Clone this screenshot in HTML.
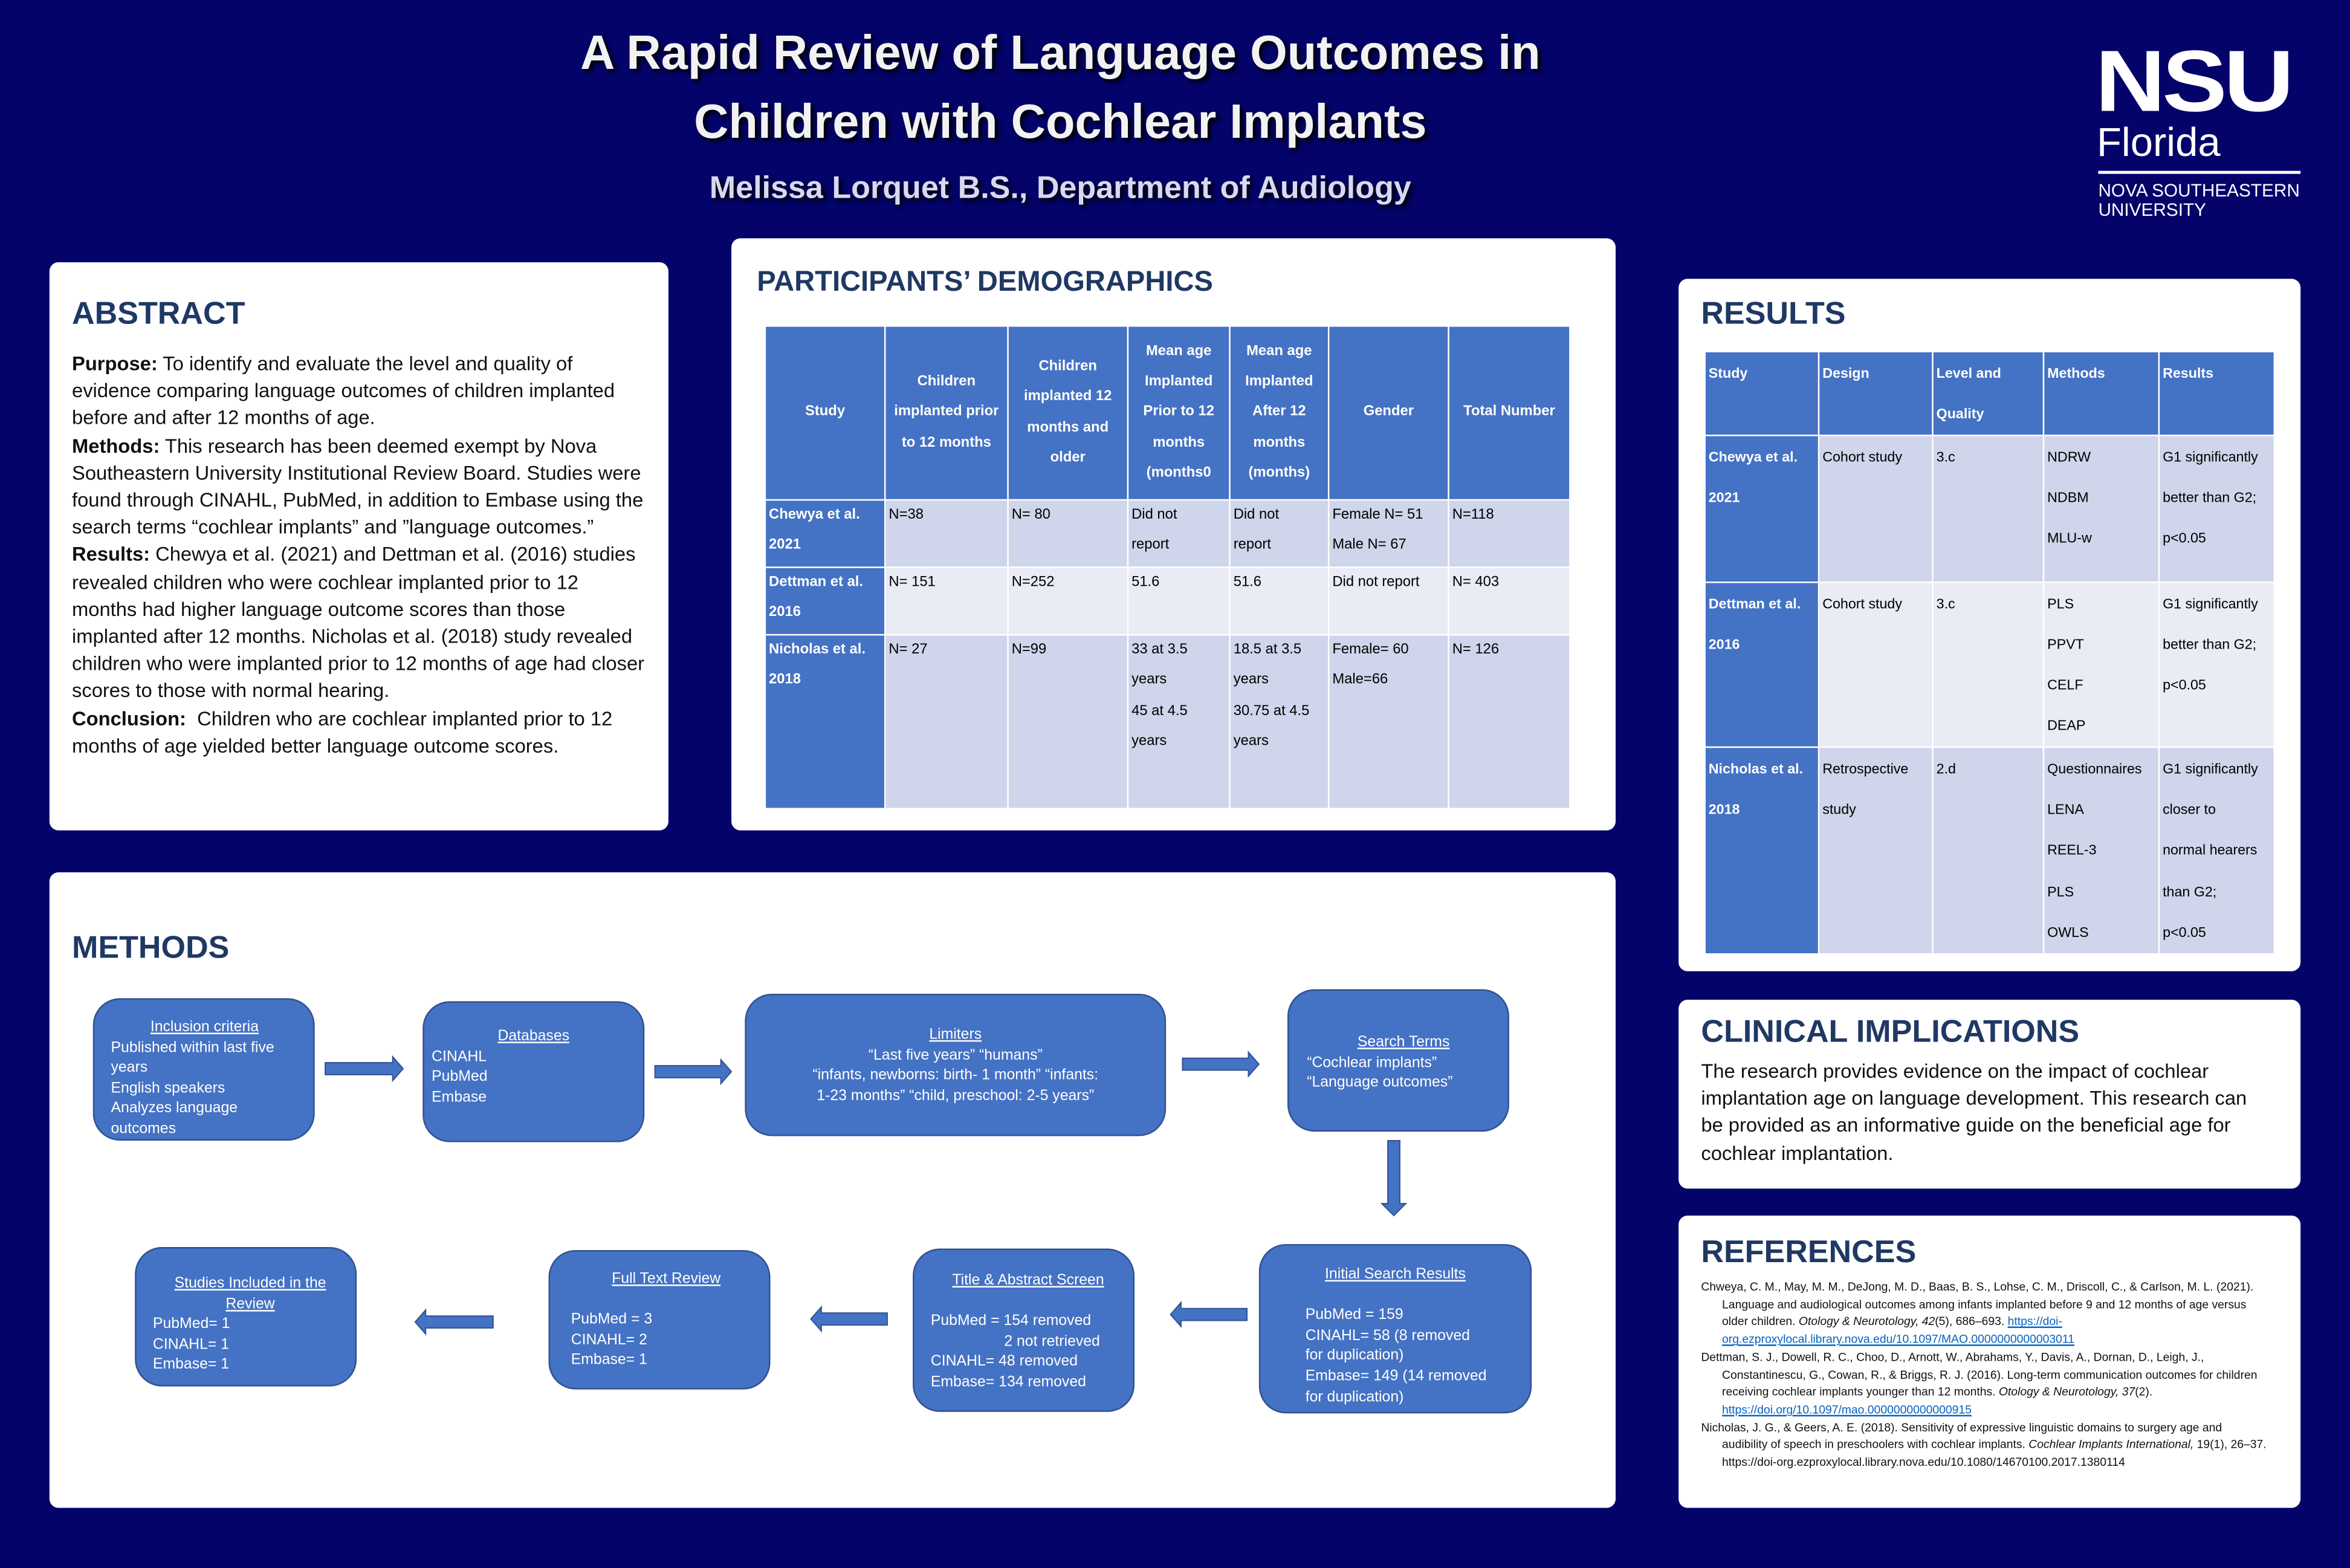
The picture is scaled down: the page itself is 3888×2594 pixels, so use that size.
<!DOCTYPE html>
<html><head><meta charset="utf-8"><style>
html,body{margin:0;padding:0;background:#03036a;}
body{width:3888px;height:2592px;overflow:hidden;}
#w{position:absolute;left:0;top:0;width:1568px;height:1046px;transform:scale(2.4796);transform-origin:0 0;font-family:"Liberation Sans",sans-serif;background:#03036a;}
.a{position:absolute;}
.panel{position:absolute;background:#fff;border-radius:6px;}
h2{position:absolute;margin:0;font-size:21px;font-weight:bold;color:#1f3864;}
.txt{position:absolute;font-size:13px;line-height:18.2px;color:#111;}
table{position:absolute;border-collapse:collapse;table-layout:fixed;font-size:9.6px;}
td{border:1px solid #fff;vertical-align:top;padding:0 6px 0 2px;}
.hd td{background:#4472c4;color:#fff;font-weight:bold;}
.r1 td{background:#cfd5ea;} .r2 td{background:#e9ebf5;}
.r1 td.s,.r2 td.s{background:#4472c4;color:#fff;font-weight:bold;}
.box{position:absolute;background:#4472c4;border:1px solid #2f528f;border-radius:18px;color:#fff;font-size:10px;line-height:13.6px;box-sizing:border-box;}
.box u{display:block;text-align:center;}
.arr{position:absolute;}
</style></head><body><div id="w">

<div class="a" style="left:200px;top:12px;width:1015px;text-align:center;color:#f2f2f2;font-size:32px;font-weight:bold;line-height:46px;text-shadow:2px 2px 3px #000;">A Rapid Review of Language Outcomes in<br>Children with Cochlear Implants</div>
<div class="a" style="left:200px;top:114px;width:1015px;text-align:center;color:#d8d8f0;font-size:21px;font-weight:bold;text-shadow:2px 2px 3px #000;">Melissa Lorquet B.S., Department of Audiology</div>

<div class="a" style="left:1398px;top:22px;color:#fff;font-size:58px;font-weight:900;letter-spacing:-2px;line-height:66px;transform:scaleX(1.12);transform-origin:0 0;">NSU</div>
<div class="a" style="left:1399px;top:79px;color:#fff;font-size:27px;line-height:32px;">Florida</div>
<div class="a" style="left:1400px;top:114px;width:135px;height:1.5px;background:#fff;"></div>
<div class="a" style="left:1400px;top:121px;color:#fff;font-size:12px;line-height:13px;">NOVA SOUTHEASTERN<br>UNIVERSITY</div>

<!-- Abstract -->
<div class="panel" style="left:33px;top:175px;width:413px;height:379px;"></div>
<h2 style="left:48px;top:198px;">ABSTRACT</h2>
<div class="txt" style="left:48px;top:234px;width:382px;font-size:13.2px;"><b>Purpose:</b> To identify and evaluate the level and quality of evidence comparing language outcomes of children implanted before and after 12 months of age.<br><b>Methods:</b> This research has been deemed exempt by Nova Southeastern University Institutional Review Board. Studies were found through CINAHL, PubMed, in addition to Embase using the search terms “cochlear implants” and ”language outcomes.”<br><b>Results:</b> Chewya et al. (2021) and Dettman et al. (2016) studies revealed children who were cochlear implanted prior to 12 months had higher language outcome scores than those implanted after 12 months. Nicholas et al. (2018) study revealed children who were implanted prior to 12 months of age had closer scores to those with normal hearing.<br><b>Conclusion:</b>&nbsp; Children who are cochlear implanted prior to 12 months of age yielded better language outcome scores.</div>

<!-- Demographics -->
<div class="panel" style="left:488px;top:159px;width:590px;height:395px;"></div>
<h2 style="left:505px;top:178px;font-size:19px;">PARTICIPANTS’ DEMOGRAPHICS</h2>
<table style="left:510px;top:217px;width:537px;line-height:20.3px;">
<colgroup><col style="width:80px"><col style="width:82px"><col style="width:80px"><col style="width:68px"><col style="width:66px"><col style="width:80px"><col style="width:81px"></colgroup>
<tr class="hd" style="height:116px;"><td style="vertical-align:middle;text-align:center;padding:0 2px">Study</td><td style="vertical-align:middle;text-align:center;padding:0 2px">Children implanted prior to 12 months</td><td style="vertical-align:middle;text-align:center;padding:0 2px">Children implanted 12 months and older</td><td style="vertical-align:middle;text-align:center;padding:0 2px">Mean age Implanted Prior to 12 months (months0</td><td style="vertical-align:middle;text-align:center;padding:0 2px">Mean age Implanted After 12 months (months)</td><td style="vertical-align:middle;text-align:center;padding:0 2px">Gender</td><td style="vertical-align:middle;text-align:center;padding:0 2px">Total Number</td></tr>
<tr class="r1" style="height:45px;"><td class="s">Chewya et al. 2021</td><td>N=38</td><td>N= 80</td><td>Did not<br>report</td><td>Did not<br>report</td><td>Female N= 51 Male N= 67</td><td>N=118</td></tr>
<tr class="r2" style="height:45px;"><td class="s">Dettman et al. 2016</td><td>N= 151</td><td>N=252</td><td>51.6</td><td>51.6</td><td>Did not report</td><td>N= 403</td></tr>
<tr class="r1" style="height:116px;"><td class="s">Nicholas et al. 2018</td><td>N= 27</td><td>N=99</td><td>33 at 3.5 years<br>45 at 4.5 years</td><td>18.5 at 3.5 years<br>30.75 at 4.5 years</td><td>Female= 60 Male=66</td><td>N= 126</td></tr>
</table>

<!-- Results -->
<div class="panel" style="left:1120px;top:186px;width:415px;height:462px;"></div>
<h2 style="left:1135px;top:198px;">RESULTS</h2>
<table style="left:1137px;top:234px;width:380px;line-height:27.3px;font-size:9.4px;">
<colgroup><col style="width:76px"><col style="width:76px"><col style="width:74px"><col style="width:77px"><col style="width:77px"></colgroup>
<tr class="hd" style="height:49px;"><td>Study</td><td>Design</td><td>Level and Quality</td><td>Methods</td><td style="padding-right:10px">Results</td></tr>
<tr class="r1" style="height:98px;"><td class="s">Chewya et al. 2021</td><td>Cohort study</td><td>3.c</td><td>NDRW<br>NDBM<br>MLU-w</td><td style="padding-right:2px">G1 significantly<br>better than G2;<br>p&lt;0.05</td></tr>
<tr class="r2" style="height:99px;"><td class="s">Dettman et al. 2016</td><td>Cohort study</td><td>3.c</td><td>PLS<br>PPVT<br>CELF<br><span style="line-height:16px">DEAP</span></td><td style="padding-right:2px">G1 significantly<br>better than G2;<br>p&lt;0.05</td></tr>
<tr class="r1" style="height:138px;"><td class="s">Nicholas et al. 2018</td><td>Retrospective study</td><td>2.d</td><td style="padding-right:0">Questionnaires<br>LENA<br>REEL-3<br>PLS<br>OWLS</td><td style="padding-right:2px">G1 significantly<br>closer to<br>normal hearers<br>than G2;<br>p&lt;0.05</td></tr>
</table>

<!-- Clinical -->
<div class="panel" style="left:1120px;top:667px;width:415px;height:126px;"></div>
<h2 style="left:1135px;top:677px;">CLINICAL IMPLICATIONS</h2>
<div class="txt" style="left:1135px;top:706px;width:378px;font-size:13.2px;">The research provides evidence on the impact of cochlear implantation age on language development. This research can be provided as an informative guide on the beneficial age for cochlear implantation.</div>

<!-- References -->
<div class="panel" style="left:1120px;top:811px;width:415px;height:195px;"></div>
<h2 style="left:1135px;top:824px;">REFERENCES</h2>
<div class="a" style="left:1135px;top:853px;width:380px;font-size:7.8px;line-height:11.7px;color:#111;">
<div style="padding-left:14px;text-indent:-14px;">Chweya, C. M., May, M. M., DeJong, M. D., Baas, B. S., Lohse, C. M., Driscoll, C., &amp; Carlson, M. L. (2021). Language and audiological outcomes among infants implanted before 9 and 12 months of age versus older children. <i>Otology &amp; Neurotology, 42</i>(5), 686–693. <span style="color:#0563c1;text-decoration:underline">https://doi-org.ezproxylocal.library.nova.edu/10.1097/MAO.0000000000003011</span></div>
<div style="padding-left:14px;text-indent:-14px;">Dettman, S. J., Dowell, R. C., Choo, D., Arnott, W., Abrahams, Y., Davis, A., Dornan, D., Leigh, J., Constantinescu, G., Cowan, R., &amp; Briggs, R. J. (2016). Long-term communication outcomes for children receiving cochlear implants younger than 12 months. <i>Otology &amp; Neurotology, 37</i>(2). <span style="color:#0563c1;text-decoration:underline">https://doi.org/10.1097/mao.0000000000000915</span></div>
<div style="padding-left:14px;text-indent:-14px;">Nicholas, J. G., &amp; Geers, A. E. (2018). Sensitivity of expressive linguistic domains to surgery age and audibility of speech in preschoolers with cochlear implants. <i>Cochlear Implants International,</i> 19(1), 26–37. https://doi-org.ezproxylocal.library.nova.edu/10.1080/14670100.2017.1380114</div>
</div>

<!-- Methods -->
<div class="panel" style="left:33px;top:582px;width:1045px;height:424px;"></div>
<h2 style="left:48px;top:621px;">METHODS</h2>

<div class="box" style="left:62px;top:666px;width:148px;height:95px;padding:12px 10px 0 11px;"><u>Inclusion criteria</u>Published within last five years<br>English speakers<br>Analyzes language<br>outcomes</div>
<div class="box" style="left:282px;top:668px;width:148px;height:94px;padding:16px 5px 0 5px;"><u>Databases</u>CINAHL<br>PubMed<br>Embase</div>
<div class="box" style="left:497px;top:663px;width:281px;height:95px;padding:20px 5px 0 5px;text-align:center;"><u>Limiters</u>“Last five years” “humans”<br>“infants, newborns: birth- 1 month” “infants:<br>1-23 months” “child, preschool: 2-5 years”</div>
<div class="box" style="left:859px;top:660px;width:148px;height:95px;padding:28px 5px 0 12px;"><u>Search Terms</u>“Cochlear implants”<br>“Language outcomes”</div>
<div class="box" style="left:840px;top:830px;width:182px;height:113px;padding:13px 5px 0 30px;"><u style="margin-left:-25px">Initial Search Results</u><br>PubMed = 159<br>CINAHL= 58 (8 removed<br>for duplication)<br>Embase= 149 (14 removed<br>for duplication)</div>
<div class="box" style="left:609px;top:833px;width:148px;height:109px;padding:14px 5px 0 11px;"><u>Title &amp; Abstract Screen</u><br>PubMed = 154 removed<br><span style="padding-left:49px">2 not retrieved</span><br>CINAHL= 48 removed<br>Embase= 134 removed</div>
<div class="box" style="left:366px;top:834px;width:148px;height:93px;padding:12px 5px 0 14px;"><u>Full Text Review</u><br>PubMed = 3<br>CINAHL= 2<br>Embase= 1</div>
<div class="box" style="left:90px;top:832px;width:148px;height:93px;padding:17px 5px 0 11px;"><u>Studies Included in the<br>Review</u>PubMed= 1<br>CINAHL= 1<br>Embase= 1</div>

<svg class="arr" style="left:0;top:0" width="1568" height="1046">
<g fill="#4472c4" stroke="#2f528f" stroke-width="0.8">
<polygon points="217,709 262,709 262,705 269,713 262,721 262,717 217,717"/>
<polygon points="437,711 481,711 481,707 488,715 481,723 481,719 437,719"/>
<polygon points="789,706 833,706 833,702 840,710 833,718 833,714 789,714"/>
<polygon points="926,761 934,761 934,803 938,803 930,811 922,803 926,803"/>
<polygon points="832,873 788,873 788,869 781,877 788,885 788,881 832,881"/>
<polygon points="592,876 548,876 548,872 541,880 548,888 548,884 592,884"/>
<polygon points="329,878 284,878 284,874 277,882 284,890 284,886 329,886"/>
</g></svg>

</div></body></html>
